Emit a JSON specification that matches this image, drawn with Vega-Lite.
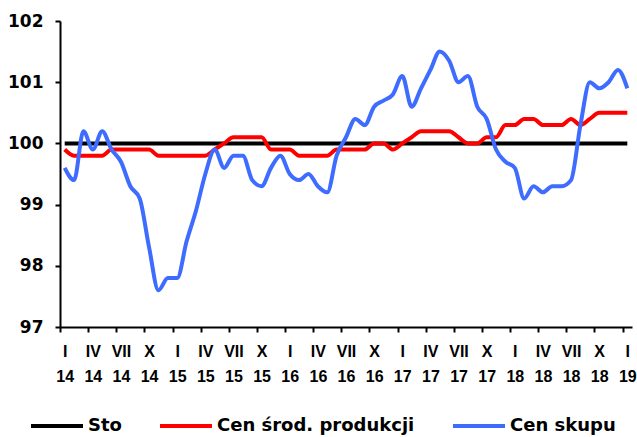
{
  "$schema": "https://vega.github.io/schema/vega-lite/v6.json",
  "width": 572,
  "height": 306,
  "autosize": {"type": "none"},
  "padding": {"left": 60, "top": 21, "right": 5, "bottom": 110},
  "config": {"view": {"stroke": null}, "font": "Liberation Sans"},
  "data": {"values": [
    {"m":0,"sto":100,"srod":99.9,"skup":99.6},
    {"m":1,"sto":100,"srod":99.8,"skup":99.4},
    {"m":2,"sto":100,"srod":99.8,"skup":100.2},
    {"m":3,"sto":100,"srod":99.8,"skup":99.9},
    {"m":4,"sto":100,"srod":99.8,"skup":100.2},
    {"m":5,"sto":100,"srod":99.9,"skup":99.9},
    {"m":6,"sto":100,"srod":99.9,"skup":99.7},
    {"m":7,"sto":100,"srod":99.9,"skup":99.3},
    {"m":8,"sto":100,"srod":99.9,"skup":99.1},
    {"m":9,"sto":100,"srod":99.9,"skup":98.3},
    {"m":10,"sto":100,"srod":99.8,"skup":97.6},
    {"m":11,"sto":100,"srod":99.8,"skup":97.8},
    {"m":12,"sto":100,"srod":99.8,"skup":97.8},
    {"m":13,"sto":100,"srod":99.8,"skup":98.4},
    {"m":14,"sto":100,"srod":99.8,"skup":98.9},
    {"m":15,"sto":100,"srod":99.8,"skup":99.5},
    {"m":16,"sto":100,"srod":99.9,"skup":99.9},
    {"m":17,"sto":100,"srod":100.0,"skup":99.6},
    {"m":18,"sto":100,"srod":100.1,"skup":99.8},
    {"m":19,"sto":100,"srod":100.1,"skup":99.8},
    {"m":20,"sto":100,"srod":100.1,"skup":99.4},
    {"m":21,"sto":100,"srod":100.1,"skup":99.3},
    {"m":22,"sto":100,"srod":99.9,"skup":99.6},
    {"m":23,"sto":100,"srod":99.9,"skup":99.8},
    {"m":24,"sto":100,"srod":99.9,"skup":99.5},
    {"m":25,"sto":100,"srod":99.8,"skup":99.4},
    {"m":26,"sto":100,"srod":99.8,"skup":99.5},
    {"m":27,"sto":100,"srod":99.8,"skup":99.3},
    {"m":28,"sto":100,"srod":99.8,"skup":99.2},
    {"m":29,"sto":100,"srod":99.9,"skup":99.8},
    {"m":30,"sto":100,"srod":99.9,"skup":100.1},
    {"m":31,"sto":100,"srod":99.9,"skup":100.4},
    {"m":32,"sto":100,"srod":99.9,"skup":100.3},
    {"m":33,"sto":100,"srod":100.0,"skup":100.6},
    {"m":34,"sto":100,"srod":100.0,"skup":100.7},
    {"m":35,"sto":100,"srod":99.9,"skup":100.8},
    {"m":36,"sto":100,"srod":100.0,"skup":101.1},
    {"m":37,"sto":100,"srod":100.1,"skup":100.6},
    {"m":38,"sto":100,"srod":100.2,"skup":100.9},
    {"m":39,"sto":100,"srod":100.2,"skup":101.2},
    {"m":40,"sto":100,"srod":100.2,"skup":101.5},
    {"m":41,"sto":100,"srod":100.2,"skup":101.35},
    {"m":42,"sto":100,"srod":100.1,"skup":101.0},
    {"m":43,"sto":100,"srod":100.0,"skup":101.1},
    {"m":44,"sto":100,"srod":100.0,"skup":100.6},
    {"m":45,"sto":100,"srod":100.1,"skup":100.4},
    {"m":46,"sto":100,"srod":100.1,"skup":99.9},
    {"m":47,"sto":100,"srod":100.3,"skup":99.7},
    {"m":48,"sto":100,"srod":100.3,"skup":99.6},
    {"m":49,"sto":100,"srod":100.4,"skup":99.1},
    {"m":50,"sto":100,"srod":100.4,"skup":99.3},
    {"m":51,"sto":100,"srod":100.3,"skup":99.2},
    {"m":52,"sto":100,"srod":100.3,"skup":99.3},
    {"m":53,"sto":100,"srod":100.3,"skup":99.3},
    {"m":54,"sto":100,"srod":100.4,"skup":99.4},
    {"m":55,"sto":100,"srod":100.3,"skup":100.3},
    {"m":56,"sto":100,"srod":100.4,"skup":101.0},
    {"m":57,"sto":100,"srod":100.5,"skup":100.9},
    {"m":58,"sto":100,"srod":100.5,"skup":101.0},
    {"m":59,"sto":100,"srod":100.5,"skup":101.2},
    {"m":60,"sto":100,"srod":100.5,"skup":100.9}
  ]},
  "transform": [{"fold": ["sto", "srod", "skup"], "as": ["s", "v"]}],
  "mark": {"type": "line", "interpolate": "monotone"},
  "encoding": {
    "x": {
      "field": "m", "type": "quantitative",
      "scale": {"domain": [-0.5, 60.5], "nice": false, "zero": false},
      "axis": {
        "title": null,
        "values": [0,3,6,9,12,15,18,21,24,27,30,33,36,39,42,45,48,51,54,57,60],
        "tickOffset": -4.69,
        "labelOffset": 4.69,
        "labelExpr": "[['I','IV','VII','X'][floor((datum.value % 12) / 3)], '' + (14 + floor(datum.value / 12))]",
        "labelFontSize": 16,
        "labelFontWeight": "bold",
        "labelColor": "black",
        "labelLineHeight": 25,
        "labelPadding": 11,
        "labelOverlap": false,
        "labelBound": false,
        "labelFlush": false,
        "tickSize": 5,
        "tickWidth": 2,
        "tickColor": "black",
        "domainColor": "black",
        "domainWidth": 2,
        "grid": false
      }
    },
    "y": {
      "field": "v", "type": "quantitative",
      "scale": {"domain": [97, 102], "nice": false, "zero": false},
      "axis": {
        "title": null,
        "values": [97, 98, 99, 100, 101, 102],
        "labelFont": "DejaVu Sans",
        "labelFontSize": 17,
        "labelFontWeight": "bold",
        "labelColor": "black",
        "labelPadding": 12,
        "tickSize": 5,
        "tickWidth": 2,
        "tickColor": "black",
        "domainColor": "black",
        "domainWidth": 2,
        "grid": false
      }
    },
    "strokeWidth": {
      "field": "s", "type": "nominal",
      "scale": {"domain": ["sto", "srod", "skup"], "range": [4, 4, 5]},
      "legend": null
    },
    "color": {
      "field": "s", "type": "nominal",
      "scale": {"domain": ["sto", "srod", "skup"], "range": ["#000000", "#FF0000", "#3D6CFF"]},
      "legend": {
        "title": null,
        "orient": "none",
        "legendX": -31,
        "legendY": 377,
        "direction": "horizontal",
        "symbolType": "stroke",
        "symbolSize": 2704,
        "symbolStrokeWidth": 5,
        "labelFont": "DejaVu Sans",
        "labelFontSize": 18,
        "labelFontWeight": "bold",
        "labelColor": "black",
        "labelOffset": 3,
        "columnPadding": 30,
        "labelLimit": 400,
        "labelExpr": "datum.label == 'sto' ? 'Sto' : datum.label == 'srod' ? 'Cen środ. produkcji' : 'Cen skupu'"
      }
    }
  }
}
